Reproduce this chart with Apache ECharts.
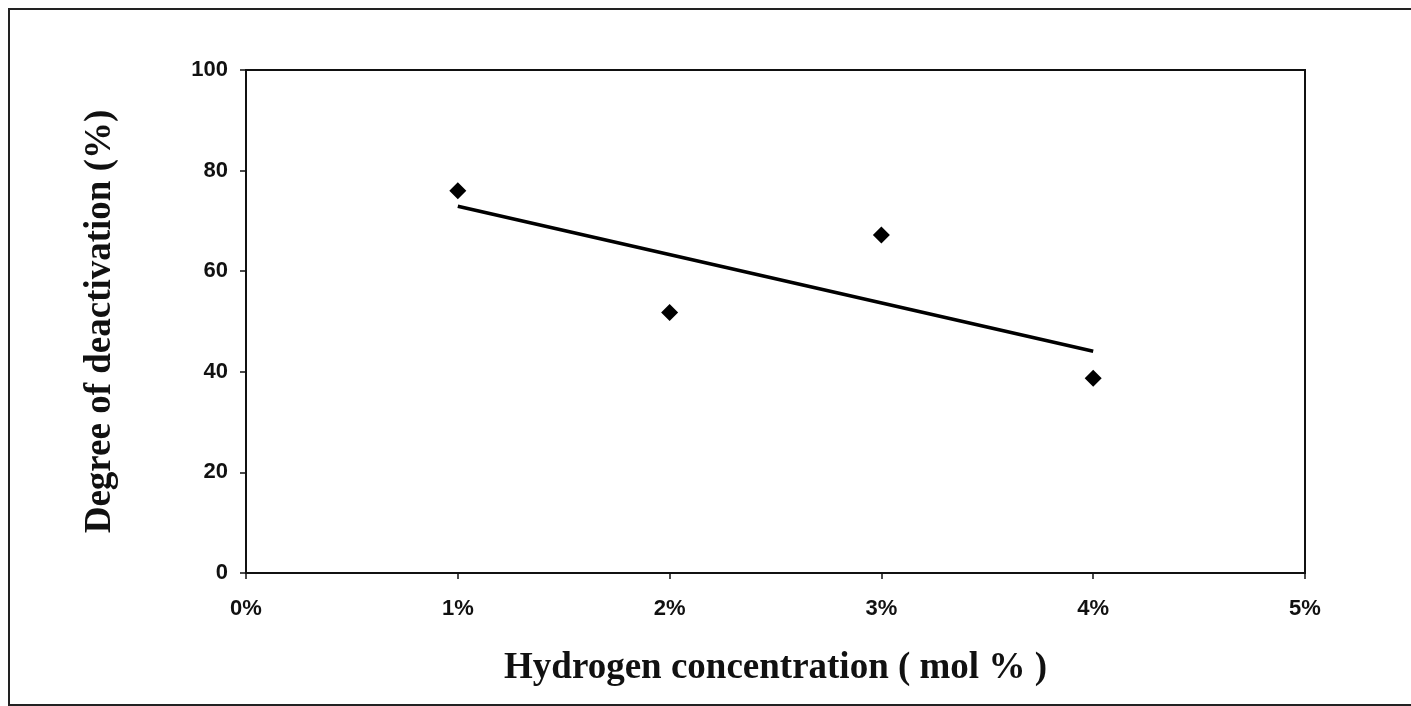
<!DOCTYPE html>
<html>
<head>
<meta charset="utf-8">
<script src="https://cdn.jsdelivr.net/npm/echarts@6/dist/echarts.min.js"></script>
<style>
  html, body { margin: 0; padding: 0; background: #fff; }
  #chart { width: 1411px; height: 706px; }
</style>
</head>
<body>
<div id="chart"></div>
<script>
// hydrogen concentration (mol %) and degree of deactivation (%)
var h2Conc = [1, 2, 3, 4];
var deact = [76, 51.8, 67.2, 38.7];
// linear trend line, read at its two ends
var trendX = [1, 4];
var trendY = [72.9, 44.1];
var yTicks = [0, 20, 40, 60, 80, 100];

var chart = echarts.init(document.getElementById('chart'));

var pts = [];
for (var i = 0; i < h2Conc.length; i++) pts.push([h2Conc[i], deact[i]]);
var trend = [];
for (var j = 0; j < trendX.length; j++) trend.push([trendX[j], trendY[j]]);

var tickFont = { fontFamily: 'Liberation Sans, Arial', fontWeight: 'bold', fontSize: 22, color: '#111' };
var titleFont = { fontFamily: 'Liberation Serif, Times New Roman', fontWeight: 'bold', fontSize: 37, color: '#111' };

chart.setOption({
  backgroundColor: '#fff',
  animation: false,
  graphic: [{
    type: 'rect',
    shape: { x: 9, y: 9, width: 1420, height: 696 },
    style: { fill: 'none', stroke: '#222', lineWidth: 2 },
    silent: true
  }],
  grid: { left: 246, top: 70, right: 106, bottom: 133, show: true, borderColor: '#111', borderWidth: 2 },
  xAxis: {
    type: 'value',
    min: 0, max: 5, interval: 1,
    name: 'Hydrogen concentration ( mol % )',
    nameLocation: 'middle',
    nameGap: 77,
    nameTextStyle: titleFont,
    axisLine: { show: true, onZero: false, lineStyle: { color: '#111', width: 2 } },
    axisTick: { show: true, length: 6, lineStyle: { color: '#111', width: 1.5 } },
    axisLabel: Object.assign({ margin: 25, formatter: function (v) { return v + '%'; } }, tickFont),
    splitLine: { show: false }
  },
  yAxis: {
    type: 'value',
    min: 0, max: 100, interval: 20,
    name: 'Degree of deactivation (%)',
    nameLocation: 'middle',
    nameGap: 127,
    nameTextStyle: titleFont,
    axisLine: { show: true, lineStyle: { color: '#111', width: 2 } },
    axisTick: { show: true, length: 6, lineStyle: { color: '#111', width: 1.5 } },
    axisLabel: Object.assign({ margin: 18, formatter: function (v) { return yTicks.indexOf(v) >= 0 ? String(v) : ''; } }, tickFont),
    splitLine: { show: false }
  },
  series: [
    {
      type: 'scatter',
      data: pts,
      symbol: 'diamond',
      symbolSize: 17,
      itemStyle: { color: '#000', opacity: 1 },
      z: 3
    },
    {
      type: 'line',
      data: trend,
      symbol: 'none',
      lineStyle: { color: '#000', width: 3.5 },
      z: 2
    }
  ]
});
</script>
</body>
</html>
